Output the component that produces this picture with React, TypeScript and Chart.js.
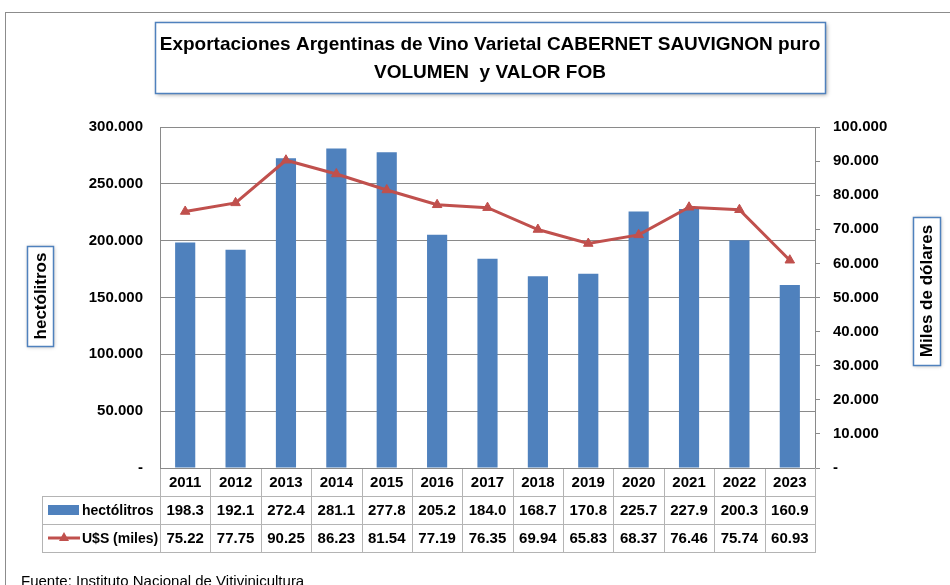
import React, { useEffect, useRef } from 'react';
import { Chart, registerables } from 'chart.js';

Chart.register(...registerables);

const years = ['2011', '2012', '2013', '2014', '2015', '2016', '2017', '2018', '2019', '2020', '2021', '2022', '2023'];
const hectolitros = [198300, 192100, 272400, 281100, 277800, 205200, 184000, 168700, 170800, 225700, 227900, 200300, 160900];
const valorFob = [75220, 77750, 90250, 86230, 81540, 77190, 76350, 69940, 65830, 68370, 76460, 75740, 60930];

const titleLines = ['Exportaciones Argentinas de Vino Varietal CABERNET SAUVIGNON puro', 'VOLUMEN  y VALOR FOB'];
const leftTitle = 'hectólitros';
const rightTitle = 'Miles de dólares';
const seriesNames = ['hectólitros', 'U$S (miles)'];
const footer = 'Fuente: Instituto Nacional de Vitivinicultura';

const BLUE = '#4F81BD';
const RED = '#C0504D';
const GRID = '#8a8a8a';
const TABLE = '#b4b4b4';
const FONT = '"Liberation Sans", Arial, sans-serif';

const fmt = (v: number) => (v === 0 ? '-' : String(v).replace(/\B(?=(\d{3})+(?!\d))/g, '.'));

const decor = {
  id: 'decor',
  beforeDraw(chart: any) {
    const ctx = chart.ctx;
    ctx.save();
    ctx.fillStyle = '#fff';
    ctx.fillRect(0, 0, chart.width, chart.height);
    ctx.restore();
  },
  afterDraw(chart: any) {
    const ctx = chart.ctx;
    const xs = chart.scales.x;
    const area = chart.chartArea;
    ctx.save();

    // outer frame
    ctx.strokeStyle = '#8c8c8c';
    ctx.lineWidth = 1;
    ctx.strokeRect(5.5, 12.5, 1200, 1200);

    // title box with shadow
    ctx.save();
    ctx.shadowColor = 'rgba(0,0,0,0.35)';
    ctx.shadowBlur = 4;
    ctx.shadowOffsetX = 2;
    ctx.shadowOffsetY = 2;
    ctx.fillStyle = '#fff';
    ctx.fillRect(155, 22, 670, 71);
    ctx.restore();
    ctx.strokeStyle = BLUE;
    ctx.lineWidth = 1.5;
    ctx.strokeRect(155.5, 22.5, 670, 71);
    ctx.fillStyle = '#000';
    ctx.textAlign = 'center';
    ctx.textBaseline = 'middle';
    ctx.font = `bold 19px ${FONT}`;
    ctx.fillText(titleLines[0], 490, 45);
    ctx.fillText(titleLines[1], 490, 73);

    // axis title boxes
    const axisBox = (x: number, y: number, w: number, h: number, text: string) => {
      ctx.save();
      ctx.shadowColor = 'rgba(0,0,0,0.3)';
      ctx.shadowBlur = 4;
      ctx.shadowOffsetX = 1;
      ctx.shadowOffsetY = 1;
      ctx.fillStyle = '#fff';
      ctx.fillRect(x, y, w, h);
      ctx.restore();
      ctx.strokeStyle = BLUE;
      ctx.lineWidth = 1.5;
      ctx.strokeRect(x + 0.5, y + 0.5, w, h);
      ctx.save();
      ctx.translate(x + w / 2, y + h / 2);
      ctx.rotate(-Math.PI / 2);
      ctx.fillStyle = '#000';
      ctx.font = `bold 17px ${FONT}`;
      ctx.textAlign = 'center';
      ctx.textBaseline = 'middle';
      ctx.fillText(text, 0, 1);
      ctx.restore();
    };
    axisBox(27, 246, 26, 100, leftTitle);
    axisBox(913, 217, 27, 148, rightTitle);

    // data table
    const n = years.length;
    const colW = (area.right - area.left) / n;
    const rowH = 28;
    const top = area.bottom;
    const tableLeft = 42;
    ctx.strokeStyle = TABLE;
    ctx.lineWidth = 1;
    ctx.beginPath();
    for (let i = 0; i <= n; i++) {
      const x = Math.round(area.left + i * colW) + 0.5;
      ctx.moveTo(x, top);
      ctx.lineTo(x, top + rowH * 3);
    }
    ctx.moveTo(tableLeft + 0.5, top + rowH);
    ctx.lineTo(tableLeft + 0.5, top + rowH * 3);
    for (let r = 1; r <= 3; r++) {
      const y = top + rowH * r + 0.5;
      ctx.moveTo(tableLeft, y);
      ctx.lineTo(Math.round(area.right) + 1, y);
    }
    ctx.stroke();

    // x axis line
    ctx.strokeStyle = GRID;
    ctx.beginPath();
    ctx.moveTo(area.left, Math.round(area.bottom) + 0.5);
    ctx.lineTo(area.right, Math.round(area.bottom) + 0.5);
    ctx.stroke();

    ctx.fillStyle = '#000';
    ctx.font = `bold 15px ${FONT}`;
    ctx.textAlign = 'center';
    ctx.textBaseline = 'middle';
    for (let i = 0; i < n; i++) {
      const cx = xs.getPixelForValue(i);
      ctx.fillText(years[i], cx, top + rowH / 2 + 1);
      ctx.fillText((hectolitros[i] / 1000).toFixed(1), cx, top + rowH * 1.5 + 1);
      ctx.fillText((valorFob[i] / 1000).toFixed(2), cx, top + rowH * 2.5 + 1);
    }

    // legend keys
    const ky1 = top + rowH * 1.5;
    const ky2 = top + rowH * 2.5;
    ctx.fillStyle = BLUE;
    ctx.fillRect(48, ky1 - 5, 31, 10);
    ctx.strokeStyle = RED;
    ctx.lineWidth = 3;
    ctx.beginPath();
    ctx.moveTo(48, ky2);
    ctx.lineTo(80, ky2);
    ctx.stroke();
    ctx.fillStyle = RED;
    ctx.beginPath();
    ctx.moveTo(64, ky2 - 6);
    ctx.lineTo(69, ky2 + 3);
    ctx.lineTo(59, ky2 + 3);
    ctx.closePath();
    ctx.fill();
    ctx.fillStyle = '#000';
    ctx.textAlign = 'left';
    ctx.font = `bold 14px ${FONT}`;
    ctx.fillText(seriesNames[0], 82, ky1 + 1);
    ctx.fillText(seriesNames[1], 82, ky2 + 1);

    // footer
    ctx.font = `15px ${FONT}`;
    ctx.textBaseline = 'top';
    ctx.fillText(footer, 21, 574);

    ctx.restore();
  },
};

export default function App() {
  const ref = useRef<HTMLCanvasElement>(null);
  useEffect(() => {
    document.body.style.margin = '0';
    const chart = new Chart(ref.current as HTMLCanvasElement, {
      type: 'bar',
      data: {
        labels: years,
        datasets: [
          {
            type: 'line',
            label: seriesNames[1],
            data: valorFob,
            yAxisID: 'y1',
            borderColor: RED,
            backgroundColor: RED,
            borderWidth: 3,
            pointStyle: 'triangle',
            pointRadius: 5.5,
            pointBorderWidth: 1,
            pointBackgroundColor: RED,
            pointBorderColor: RED,
            tension: 0,
            order: 0,
          } as any,
          {
            type: 'bar',
            label: seriesNames[0],
            data: hectolitros,
            yAxisID: 'y',
            backgroundColor: BLUE,
            borderWidth: 0,
            barPercentage: 0.4,
            categoryPercentage: 1,
            order: 1,
          },
        ],
      },
      options: {
        responsive: false,
        animation: false,
        layout: { padding: { left: 0, right: 0, top: 127, bottom: 117 } },
        plugins: { legend: { display: false }, tooltip: { enabled: false }, title: { display: false } },
        scales: {
          x: { display: false, grid: { display: false } },
          y: {
            position: 'left',
            min: 0,
            max: 300000,
            afterFit: (s: any) => { s.width = 160; },
            ticks: {
              stepSize: 50000,
              padding: 17,
              color: '#000',
              font: { family: FONT, size: 15, weight: 'bold' },
              callback: (v: any) => fmt(Number(v)),
            },
            grid: { color: GRID, drawTicks: false, lineWidth: 1 },
            border: { display: true, color: GRID },
          },
          y1: {
            position: 'right',
            min: 0,
            max: 100000,
            afterFit: (s: any) => { s.width = 135; },
            ticks: {
              stepSize: 10000,
              padding: 13,
              color: '#000',
              font: { family: FONT, size: 15, weight: 'bold' },
              callback: (v: any) => fmt(Number(v)),
            },
            grid: { drawOnChartArea: false, drawTicks: true, tickLength: 5, color: GRID },
            border: { display: true, color: GRID },
          },
        },
      },
      plugins: [decor],
    });
    return () => chart.destroy();
  }, []);
  return (
    <div style={{ width: 950, height: 585, overflow: 'hidden' }}>
      <canvas ref={ref} width={950} height={585} style={{ display: 'block' }} />
    </div>
  );
}
